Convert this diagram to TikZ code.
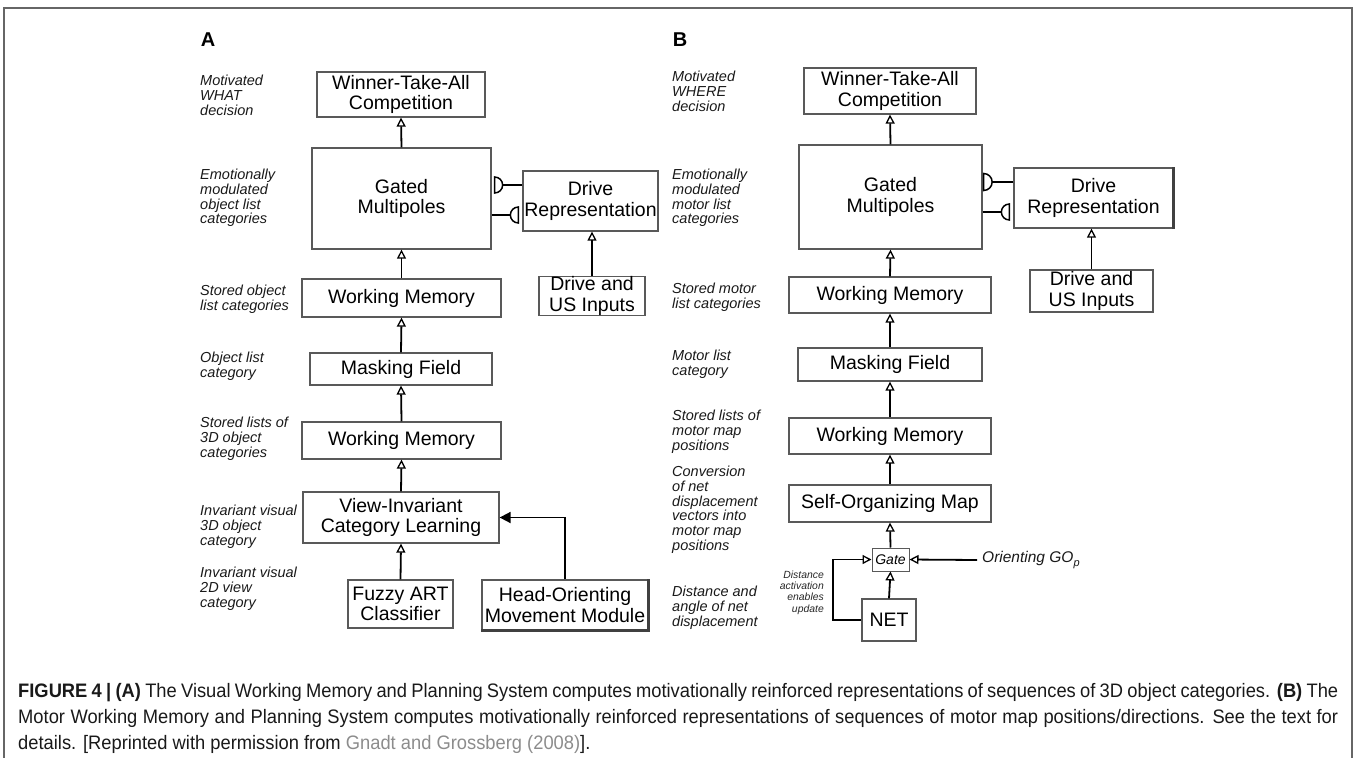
\documentclass[tikz,border=0pt]{standalone}
\usepackage{fontspec}
\setmainfont{Liberation Sans}
\newfontfamily\capfont[FakeStretch=0.94]{Liberation Sans}
\usetikzlibrary{arrows.meta,calc}

\begin{document}
\begin{tikzpicture}[x=1pt,y=-1pt,
  box/.style={draw=black!65, line width=1.3pt, inner sep=0pt, align=center,
    font=\fontsize{19.5}{20.5}\selectfont, text=black},
  lbl/.style={anchor=north west, inner sep=0pt, align=left,
    font=\fontsize{14.5}{14.7}\selectfont\itshape, text=black!90},
  link/.style={draw=black, line width=1.8pt},
  up/.style={link, -{Triangle[open, length=9pt, width=9pt, line width=1.3pt]}},
  solidtip/.style={link, -{Triangle[length=11pt, width=11pt]}},
  syn/.style={draw=black, line width=1.5pt, fill=white},
  panel/.style={font=\fontsize{20}{20}\selectfont\bfseries},
  frame/.style={draw=black!60, line width=1.2pt}
]
\useasboundingbox (0,0) rectangle (1358,758);

% outer frame
\draw[frame] (4,758) -- (4,8) -- (1352,8) -- (1352,758);

% panel letters
\node[panel] (pa) at (208,40) {A};
\node[panel] (pb) at (680,40) {B};

% ---------------- Panel A: visual (WHAT) stream ----------------
\node[box, minimum width=168pt, minimum height=45pt] (wtaa) at (401,94.5) {Winner-Take-All\\Competition};
\node[box, minimum width=179pt, minimum height=101pt] (gma) at (401.5,198.5) {Gated\\Multipoles};
\node[box, minimum width=135pt, minimum height=60pt] (dra) at (590.5,201) {Drive\\Representation};
\node[box, minimum width=106pt, minimum height=38pt] (dusa) at (592,296) {Drive and\\US Inputs};
\node[box, minimum width=199pt, minimum height=38pt] (wm1a) at (401.5,298) {Working Memory};
\node[box, minimum width=182pt, minimum height=32pt] (mfa) at (401,369) {Masking Field};
\node[box, minimum width=199pt, minimum height=37pt] (wm2a) at (401.5,440.5) {Working Memory};
\node[box, minimum width=196pt, minimum height=51pt] (via) at (401,517.5) {View-Invariant\\Category Learning};
\node[box, minimum width=105pt, minimum height=48pt] (faa) at (400.5,604) {Fuzzy ART\\Classifier};
\node[box, minimum width=166pt, minimum height=50pt] (hoa) at (565,605) {Head-Orienting\\Movement Module};
\draw[draw=black!75, line width=2.4pt] (hoa.north east) -- (hoa.south east) -- (hoa.south west);

\draw[up] (gma.north) -- (wtaa.south);
\draw[up] (wm1a.north) -- (gma.south);
\draw[up] (mfa.north) -- (wm1a.south);
\draw[up] (wm2a.north) -- (mfa.south);
\draw[up] (via.north) -- (wm2a.south);
\draw[up] (faa.north) -- (via.south);
\draw[up] (dusa.north) -- (dusa.north |- dra.south);
\draw[solidtip] (hoa.north) |- (via.east);

% adaptive (hemidisk) synapses between drives and multipoles
\coordinate (ya1) at (0,185);
\coordinate (ya2) at (0,215);
\coordinate (sa1) at ($(gma.east |- ya1)+(3,0)$);
\coordinate (sa2) at ($(dra.west |- ya2)+(-4,0)$);
\draw[link] (dra.west |- ya1) -- ($(sa1)+(8,0)$);
\draw[syn] ($(sa1)+(0,-8)$) arc[start angle=-90, end angle=90, radius=8] -- cycle;
\draw[link] (gma.east |- ya2) -- ($(sa2)+(-8,0)$);
\draw[syn] ($(sa2)+(0,-8)$) arc[start angle=-90, end angle=-270, radius=8] -- cycle;

% stage descriptions
\node[lbl] (la1) at (200,75) {Motivated\\WHAT\\decision};
\node[lbl] (la2) at (200,169) {Emotionally\\modulated\\object list\\categories};
\node[lbl] (la3) at (200,285) {Stored object\\list categories};
\node[lbl] (la4) at (200,352) {Object list\\category};
\node[lbl] (la5) at (200,417) {Stored lists of\\3D object\\categories};
\node[lbl] (la6) at (200,505) {Invariant visual\\3D object\\category};
\node[lbl] (la7) at (200,567) {Invariant visual\\2D view\\category};

% ---------------- Panel B: motor (WHERE) stream ----------------
\node[box, minimum width=172pt, minimum height=46pt] (wtab) at (890,91) {Winner-Take-All\\Competition};
\node[box, minimum width=183pt, minimum height=104pt] (gmb) at (890.5,197) {Gated\\Multipoles};
\node[box, minimum width=159pt, minimum height=60pt] (drb) at (1093.5,198) {Drive\\Representation};
\draw[draw=black!75, line width=2.4pt] (drb.north east) -- (drb.south east);
\node[box, minimum width=123pt, minimum height=42pt] (dusb) at (1091.5,291) {Drive and\\US Inputs};
\node[box, minimum width=202pt, minimum height=36pt] (wm1b) at (890,295) {Working Memory};
\node[box, minimum width=184pt, minimum height=33pt] (mfb) at (890,364.5) {Masking Field};
\node[box, minimum width=202pt, minimum height=36pt] (wm2b) at (890,436) {Working Memory};
\node[box, minimum width=202pt, minimum height=37pt] (somb) at (890,503.5) {Self-Organizing Map};
\node[box, minimum width=37pt, minimum height=23pt, line width=1pt,
  font=\fontsize{14}{14}\selectfont\itshape] (gate) at (890.5,559.5) {Gate};
\node[box, minimum width=54pt, minimum height=42pt, font=\fontsize{19.5}{19.5}\selectfont] (net) at (889,620) {NET};

\draw[up] (gmb.north) -- (wtab.south);
\draw[up] (wm1b.north) -- (gmb.south);
\draw[up] (mfb.north) -- (wm1b.south);
\draw[up] (wm2b.north) -- (mfb.south);
\draw[up] (somb.north) -- (wm2b.south);
\draw[up] (gate.north) -- (somb.south);
\draw[up] (net.north) -- (gate.south);
\draw[up] (dusb.north) -- (dusb.north |- drb.south);
\draw[up] (net.west) -- ++(-28,0) |- (gate.west);

\node[anchor=north east, inner sep=0pt, align=right,
  font=\fontsize{10.4}{11.3}\selectfont\itshape, text=black!85] (dist) at (824,570.5)
  {Distance\\activation\\enables\\update};
\node[anchor=west, inner sep=0pt, font=\fontsize{15.5}{15.5}\selectfont\itshape, text=black!90]
  (go) at (982,560) {Orienting GO\raisebox{-3.5pt}{\fontsize{11}{11}\selectfont p}};
\draw[up] (go.west) ++(-5,0) -- (gate.east);

\coordinate (yb1) at (0,182);
\coordinate (yb2) at (0,212);
\coordinate (sb1) at ($(gmb.east |- yb1)+(1,0)$);
\coordinate (sb2) at ($(drb.west |- yb2)+(-4,0)$);
\draw[link] (drb.west |- yb1) -- ($(sb1)+(8.5,0)$);
\draw[syn] ($(sb1)+(0,-8.5)$) arc[start angle=-90, end angle=90, radius=8.5] -- cycle;
\draw[link] (gmb.east |- yb2) -- ($(sb2)+(-8,0)$);
\draw[syn] ($(sb2)+(0,-8)$) arc[start angle=-90, end angle=-270, radius=8] -- cycle;

\node[lbl] (lb1) at (672,71) {Motivated\\WHERE\\decision};
\node[lbl] (lb2) at (672,169) {Emotionally\\modulated\\motor list\\categories};
\node[lbl] (lb3) at (672,283) {Stored motor\\list categories};
\node[lbl] (lb4) at (672,350) {Motor list\\category};
\node[lbl] (lb5) at (672,410) {Stored lists of\\motor map\\positions};
\node[lbl] (lb6) at (672,466) {Conversion\\of net\\displacement\\vectors into\\motor map\\positions};
\node[lbl] (lb7) at (672,586) {Distance and\\angle of net\\displacement};

% ---------------- caption ----------------
\node[anchor=base west, inner sep=0pt, text=black!90,
  font=\capfont\fontsize{19.5}{26.5}\selectfont] (cap) at (18,697)
  {\vtop{\hsize=1320pt \baselineskip=26pt
   \hbox to \hsize{\textbf{FIGURE 4 | (A)} The Visual Working Memory and Planning System computes motivationally reinforced representations of sequences of 3D object categories. \textbf{(B)} The}
   \hbox to \hsize{Motor Working Memory and Planning System computes motivationally reinforced representations of sequences of motor map positions/directions. See the text for}
   \hbox{details. [Reprinted with permission from \textcolor{black!45}{Gnadt and Grossberg (2008)}].}}};
\end{tikzpicture}
\end{document}
